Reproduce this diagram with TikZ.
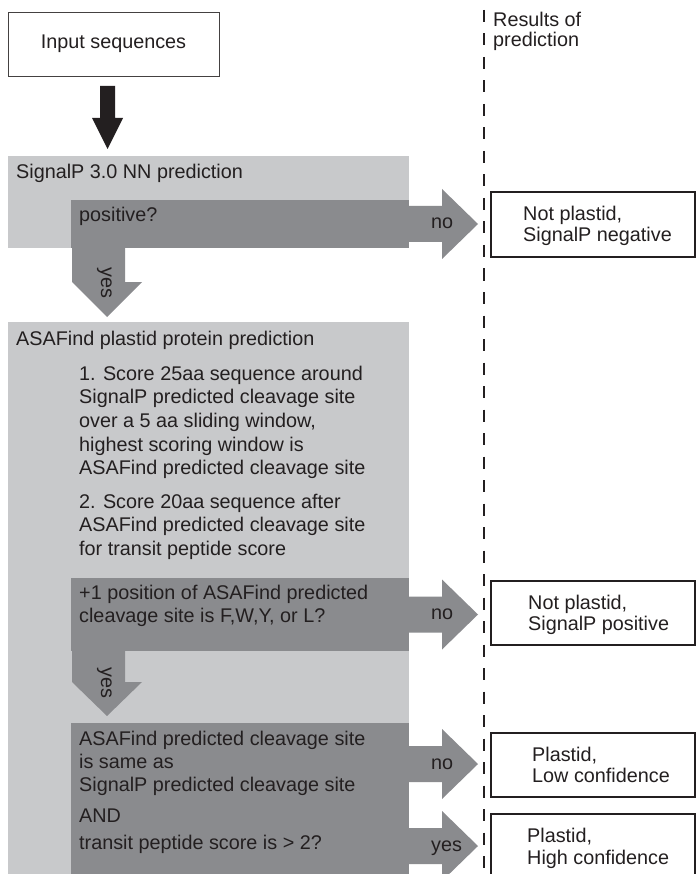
\documentclass[tikz,border=0pt]{standalone}
\usepackage{fontspec}
\setmainfont{Liberation Sans}
\definecolor{lightg}{RGB}{200,201,203}
\definecolor{darkg}{RGB}{138,139,142}
\definecolor{ink}{RGB}{35,31,32}
\begin{document}
\begin{tikzpicture}[x=1pt,y=-1pt,
  txt/.style={anchor=base west, inner sep=0pt, text=ink, font=\fontsize{19.8}{23.5}\selectfont},
  resbox/.style={draw=ink, line width=1.1pt, fill=white},
  lightpanel/.style={fill=lightg},
  darkpanel/.style={fill=darkg},
  rotlabel/.style={inner sep=0pt, text=ink, rotate=-90, font=\fontsize{19.8}{23.5}\selectfont}]
\useasboundingbox (0,0) rectangle (696,874);
\clip (0,0) rectangle (696,874);
\fill[white] (0,0) rectangle (696,874);

% input box and black arrow
\node[draw=ink!85, line width=0.9pt, minimum width=211pt, minimum height=64pt, inner sep=0pt,
      text=ink, font=\fontsize{19.8}{23.5}\selectfont] (input) at (113.5,44) {Input sequences};
\fill[ink] (100,86) -- (115,86) -- (115,118) -- (123,118) -- (107.5,149) -- (92,118) -- (100,118) -- cycle;

% SignalP panel
\fill[lightpanel] (8,156) rectangle (409,248);
\fill[darkpanel] (71,200) rectangle (409,248);
\node[txt] (sphead) at (16,179) {SignalP 3.0 NN prediction};
\node[txt] (posq) at (79,222) {positive?};

% ASAFind panel
\fill[lightpanel] (8,322) rectangle (409,890);
\node[txt] (ashead) at (16,345) {ASAFind plastid protein prediction};
\node[txt] (s1a) at (79,380) {1. Score 25aa sequence around};
\node[txt] (s1b) at (79,403.7) {SignalP predicted cleavage site};
\node[txt] (s1c) at (79,427.4) {over a 5 aa sliding window,};
\node[txt] (s1d) at (79,451.1) {highest scoring window is};
\node[txt] (s1e) at (79,474.8) {ASAFind predicted cleavage site};
\node[txt] (s2a) at (79,508) {2. Score 20aa sequence after};
\node[txt] (s2b) at (79,531.7) {ASAFind predicted cleavage site};
\node[txt] (s2c) at (79,555.4) {for transit peptide score};

\fill[darkpanel] (71,578) rectangle (409,651);
\node[txt] (q2a) at (79,599) {+1 position of ASAFind predicted};
\node[txt] (q2b) at (79,622) {cleavage site is F,W,Y, or L?};

\fill[darkpanel] (71,723) rectangle (409,890);
\node[txt] (q3a) at (79,745) {ASAFind predicted cleavage site};
\node[txt] (q3b) at (79,768) {is same as};
\node[txt] (q3c) at (79,791) {SignalP predicted cleavage site};
\node[txt] (q3d) at (79,822) {AND};
\node[txt] (q3e) at (79,849) {transit peptide score is > 2?};

% down "yes" arrows
\fill[darkpanel] (72,247) -- (125,247) -- (125,282) -- (142,282) -- (107,317) -- (72,282) -- cycle;
\node[rotlabel] (yes1) at (104.5,283) {yes};
\fill[darkpanel] (72,650) -- (125,650) -- (125,682) -- (142,682) -- (107,716) -- (72,682) -- cycle;
\node[rotlabel] (yes2) at (104.5,683) {yes};

% right arrows
\foreach \cy in {224,614.5,764,846}{
  \fill[darkpanel] (408,\cy-18) -- (442,\cy-18) -- (442,\cy-35) -- (478,\cy) -- (442,\cy+35) -- (442,\cy+18) -- (408,\cy+18) -- cycle;
}
\node[txt] (no1) at (431,229) {no};
\node[txt] (no2) at (431,619.5) {no};
\node[txt] (no3) at (431,769) {no};
\node[txt] (yes3) at (431,851) {yes};

% dashed divider
\draw[ink, line width=2.6pt, dash pattern=on 12pt off 11.5pt] (484,10) -- (484,880);
\node[txt] (res1) at (493,27) {Results of};
\node[txt] (res2) at (493,47) {prediction};

% result boxes
\draw[resbox] (491,192) rectangle (695,257);
\node[txt] (r1a) at (523,221) {Not plastid,};
\node[txt] (r1b) at (523,242) {SignalP negative};
\draw[resbox] (491,581) rectangle (695,645);
\node[txt] (r2a) at (528,609.5) {Not plastid,};
\node[txt] (r2b) at (528,630.5) {SignalP positive};
\draw[resbox] (491,733) rectangle (695,797);
\node[txt] (r3a) at (532,761.5) {Plastid,};
\node[txt] (r3b) at (532,782.5) {Low confidence};
\draw[resbox] (491,814) rectangle (695,900);
\node[txt] (r4a) at (527,842) {Plastid,};
\node[txt] (r4b) at (527,864) {High confidence};
\end{tikzpicture}
\end{document}
